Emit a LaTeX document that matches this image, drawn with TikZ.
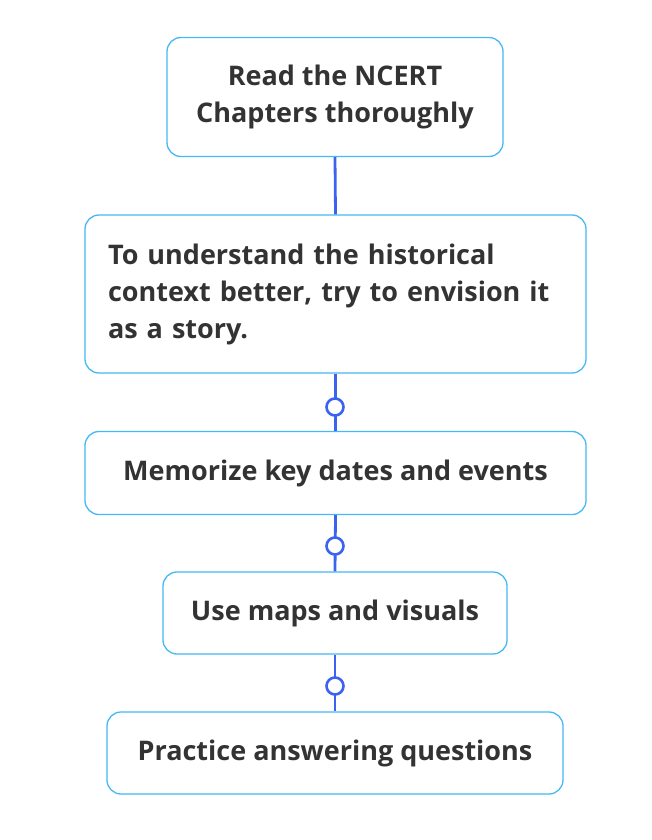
\documentclass[tikz,border=0pt]{standalone}
\usepackage{fontspec}
\setmainfont{Open Sans}
\usetikzlibrary{positioning}
\definecolor{boxline}{HTML}{45B8F5}
\definecolor{linkline}{HTML}{3C62F0}
\definecolor{txt}{HTML}{333333}
\tikzset{
  stepbox/.style={draw=boxline, line width=1.3pt, rounded corners=14pt, fill=white,
    text=txt, font=\fontsize{27}{37}\selectfont\bfseries, align=center, inner sep=0pt},
  link/.style={draw=linkline, line width=2.8pt},
  knob/.style={circle, draw=linkline, line width=2.6pt, fill=white, minimum size=17pt, inner sep=0pt}
}
\begin{document}
\begin{tikzpicture}[x=1pt, y=-1pt]
  \useasboundingbox (0,0) rectangle (651,840);

  \node[stepbox, minimum width=336pt, minimum height=119pt] (read)   at (335,97)  {Read the NCERT\\Chapters thoroughly};
  \node[stepbox, minimum width=501pt, minimum height=158pt, text width=455pt, align=left] (story)  at (335.5,294) {To understand the historical\\context better, try to envision it\\as a story.};
  \node[stepbox, minimum width=501pt, minimum height=83pt] (dates)  at (335.5,473) {Memorize key dates and events};
  \node[stepbox, minimum width=344pt, minimum height=82pt] (maps)   at (335,613) {Use maps and visuals};
  \node[stepbox, minimum width=456pt, minimum height=82pt] (answer) at (335,753) {Practice answering questions};

  \coordinate (k1) at (335,407);
  \coordinate (k2) at (335,546);
  \coordinate (k3) at (335,686);

  \draw[link] (read.south) -- (story.north);
  \draw[link] (story.south) -- (dates.north);
  \draw[link] (dates.south) -- (maps.north);
  \draw[link] (maps.south) -- (answer.north);

  \foreach \k in {k1,k2,k3}
    \node[knob] at (\k) {};
\end{tikzpicture}
\end{document}
